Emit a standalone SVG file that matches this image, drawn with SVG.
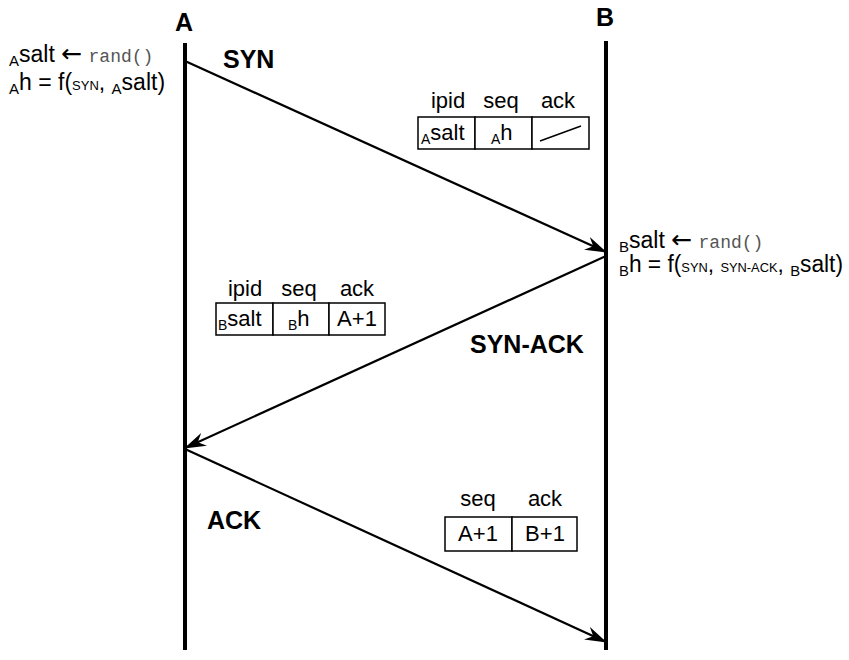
<svg xmlns="http://www.w3.org/2000/svg" width="849" height="660" viewBox="0 0 849 660">
<defs>
<style>
text{font-family:"Liberation Sans",Arial,sans-serif;fill:#000}
.lbl{font-size:25px;font-weight:bold}
.msg{font-size:25px;font-weight:bold}
.t{font-size:23px}
.c{font-size:22px}
.hd{font-size:22px}
.sub{font-size:15px}
.csub{font-size:14px}
.sc{font-size:13px}
.la{font-family:"DejaVu Sans",sans-serif;font-size:25px}
.mono{font-family:"Liberation Mono","Courier New",monospace;font-size:18px;fill:#555}
.life{stroke:#000;stroke-width:4;fill:none}
.arr{stroke:#000;stroke-width:2.2;fill:none;marker-end:url(#ah)}
.cell{stroke:#000;stroke-width:1.5;fill:#fff}
</style>
<marker id="ah" viewBox="0 0 22 14" refX="21" refY="7" markerWidth="22" markerHeight="14" markerUnits="userSpaceOnUse" orient="auto">
<path d="M0,0 L22,7 L0,14 L7,7 z" fill="#000"/>
</marker>
</defs>
<g id="lifeline-A">
<text class="lbl" x="184" y="31" text-anchor="middle">A</text>
<line class="life" x1="185" y1="43" x2="185" y2="650"/>
</g>
<g id="lifeline-B">
<text class="lbl" x="605" y="26" text-anchor="middle">B</text>
<line class="life" x1="606" y1="41" x2="606" y2="650"/>
</g>
<g id="connectors">
<line class="arr" x1="185" y1="61" x2="606" y2="252"/>
<line class="arr" x1="606" y1="256" x2="185" y2="448"/>
<line class="arr" x1="185" y1="449" x2="606" y2="642"/>
</g>
<g id="label-SYN"><text class="msg" x="223" y="68">SYN</text></g>
<g id="label-SYN-ACK"><text class="msg" x="470" y="353">SYN-ACK</text></g>
<g id="label-ACK"><text class="msg" x="207" y="529">ACK</text></g>
<g id="note-A">
<text class="t" x="9" y="62"><tspan class="sub" dy="4">A</tspan><tspan dy="-4">salt </tspan><tspan class="la">←</tspan><tspan> </tspan><tspan class="mono">rand()</tspan></text>
<text class="t" x="9" y="90"><tspan class="sub" dy="4">A</tspan><tspan dy="-4">h = f(</tspan><tspan class="sc">SYN</tspan><tspan>, </tspan><tspan class="sub" dy="4">A</tspan><tspan dy="-4">salt)</tspan></text>
</g>
<g id="note-B">
<text class="t" x="619" y="248"><tspan class="sub" dy="4">B</tspan><tspan dy="-4">salt </tspan><tspan class="la">←</tspan><tspan> </tspan><tspan class="mono">rand()</tspan></text>
<text class="t" x="619" y="272" textLength="224" lengthAdjust="spacingAndGlyphs"><tspan class="sub" dy="4">B</tspan><tspan dy="-4">h = f(</tspan><tspan class="sc">SYN</tspan><tspan>, </tspan><tspan class="sc">SYN-ACK</tspan><tspan>, </tspan><tspan class="sub" dy="4">B</tspan><tspan dy="-4">salt)</tspan></text>
</g>
<g id="packet-SYN">
<text class="hd" x="448" y="108" text-anchor="middle">ipid</text>
<text class="hd" x="501" y="108" text-anchor="middle">seq</text>
<text class="hd" x="558" y="108" text-anchor="middle">ack</text>
<rect class="cell" x="418" y="117" width="57" height="32"/>
<rect class="cell" x="475" y="117" width="57" height="32"/>
<rect class="cell" x="532" y="117" width="57" height="32"/>
<text class="c" x="421" y="140"><tspan class="csub" dy="4">A</tspan><tspan dy="-4">salt</tspan></text>
<text class="c" x="491" y="140"><tspan class="csub" dy="4">A</tspan><tspan dy="-4">h</tspan></text>
<line x1="540" y1="141" x2="581" y2="126" stroke="#000" stroke-width="1.5"/>
</g>
<g id="packet-SYN-ACK">
<text class="hd" x="245" y="296" text-anchor="middle">ipid</text>
<text class="hd" x="299" y="296" text-anchor="middle">seq</text>
<text class="hd" x="357" y="296" text-anchor="middle">ack</text>
<rect class="cell" x="216" y="303" width="57" height="32"/>
<rect class="cell" x="273" y="303" width="56" height="32"/>
<rect class="cell" x="329" y="303" width="56" height="32"/>
<text class="c" x="218" y="326"><tspan class="csub" dy="4">B</tspan><tspan dy="-4">salt</tspan></text>
<text class="c" x="288" y="326"><tspan class="csub" dy="4">B</tspan><tspan dy="-4">h</tspan></text>
<text class="c" x="357" y="326" text-anchor="middle">A+1</text>
</g>
<g id="packet-ACK">
<text class="hd" x="478" y="506" text-anchor="middle">seq</text>
<text class="hd" x="545" y="506" text-anchor="middle">ack</text>
<rect class="cell" x="445" y="517" width="67" height="34"/>
<rect class="cell" x="512" y="517" width="65" height="34"/>
<text class="c" x="478" y="541" text-anchor="middle">A+1</text>
<text class="c" x="545" y="541" text-anchor="middle">B+1</text>
</g>
</svg>
